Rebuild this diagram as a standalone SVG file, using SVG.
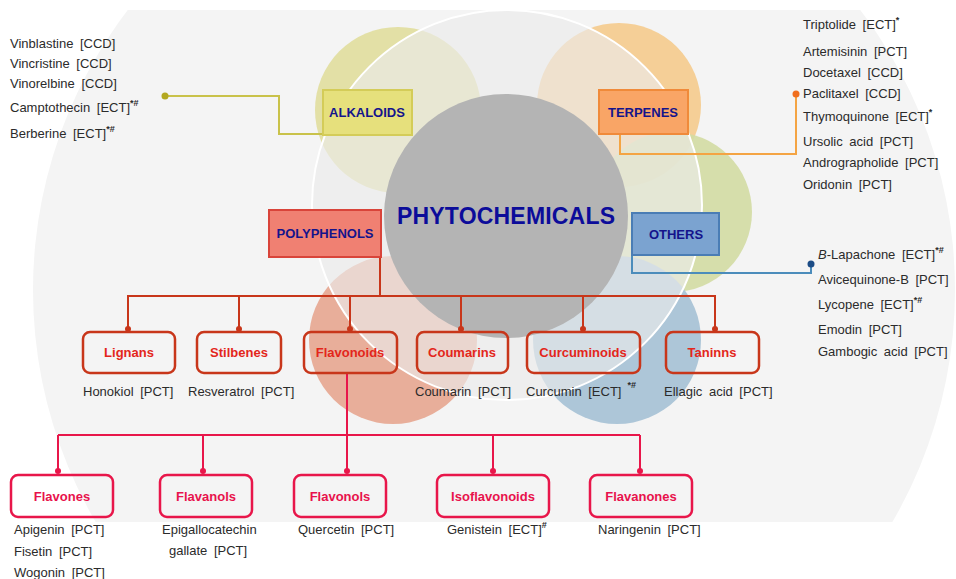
<svg xmlns="http://www.w3.org/2000/svg" width="956" height="579" viewBox="0 0 956 579">
<style>
text{font-family:"Liberation Sans",Arial,sans-serif}
.lbl{font-size:13px;fill:#2b2b2b;word-spacing:3px}
.sup{font-size:9px;font-weight:bold}
.cat{font-size:13px;font-weight:bold;fill:#14148c;text-anchor:middle}
.rtx{font-size:13px;font-weight:bold;fill:#e3261b;text-anchor:middle}
.ptx{font-size:13px;font-weight:bold;fill:#e8124c;text-anchor:middle}
.rbox{fill:none;stroke:#c8361a;stroke-width:2.5}
.pbox{fill:none;stroke:#e8164a;stroke-width:2.5}
.rl{fill:none;stroke:#c8361a;stroke-width:2}
.pl{fill:none;stroke:#e8164a;stroke-width:2}
</style>
<defs>
<clipPath id="bgclip"><rect x="0" y="10" width="956" height="512"/></clipPath>
</defs>
<rect width="956" height="579" fill="#ffffff"/>
<g id="background">
<circle cx="494" cy="290" r="461" fill="#f4f4f4" clip-path="url(#bgclip)"/>
<circle cx="398" cy="110" r="83" fill="#e3e0a6"/>
<circle cx="619" cy="105" r="82" fill="#f5cf97"/>
<circle cx="672" cy="212" r="80" fill="#d3dba3" opacity="0.9"/>
<circle cx="393" cy="340" r="84" fill="#e8ae9a"/>
<circle cx="617" cy="340" r="84" fill="#adc6d8"/>
<circle cx="507" cy="205" r="195" fill="#ebebeb" fill-opacity="0.65" stroke="#ffffff" stroke-width="2"/>
</g>
<g id="phytochemicals">
<circle cx="506" cy="216" r="122" fill="#b4b4b4"/>
<text x="506" y="224" font-size="23" font-weight="bold" fill="#0c0c9a" text-anchor="middle" textLength="218">PHYTOCHEMICALS</text>
</g>
<g id="connectors">
<polyline points="165,96 279,96 279,134 393,134" fill="none" stroke="#c9c24a" stroke-width="2"/>
<circle cx="165" cy="96" r="3.5" fill="#b3a820"/>
<polyline points="620,134 620,154 796,154 796,94" fill="none" stroke="#f4a443" stroke-width="2"/>
<circle cx="796" cy="94" r="3.5" fill="#f06e1e"/>
<polyline points="632,255 632,273 811,273 811,264" fill="none" stroke="#4b8cbb" stroke-width="2"/>
<circle cx="811" cy="264" r="3.5" fill="#1c4c86"/>
<polyline class="rl" points="380,257 380,296"/>
<line class="rl" x1="127" y1="296" x2="716" y2="296"/>
<line class="rl" x1="128" y1="296" x2="128" y2="329"/>
<line class="rl" x1="239" y1="296" x2="239" y2="329"/>
<line class="rl" x1="350" y1="296" x2="350" y2="329"/>
<line class="rl" x1="461" y1="296" x2="461" y2="329"/>
<line class="rl" x1="583" y1="296" x2="583" y2="329"/>
<line class="rl" x1="715" y1="296" x2="715" y2="329"/>
<g fill="#c8361a">
<circle cx="128" cy="329" r="3"/><circle cx="239" cy="329" r="3"/><circle cx="350" cy="329" r="3"/>
<circle cx="461" cy="329" r="3"/><circle cx="583" cy="329" r="3"/><circle cx="715" cy="329" r="3"/>
</g>
<line class="pl" x1="347" y1="373" x2="347" y2="471"/>
<line class="pl" x1="58" y1="435" x2="640" y2="435"/>
<line class="pl" x1="58" y1="435" x2="58" y2="471"/>
<line class="pl" x1="203" y1="435" x2="203" y2="471"/>
<line class="pl" x1="493" y1="435" x2="493" y2="471"/>
<line class="pl" x1="640" y1="435" x2="640" y2="471"/>
<g fill="#e8164a">
<circle cx="58" cy="471" r="3"/><circle cx="203" cy="471" r="3"/><circle cx="347" cy="471" r="3"/>
<circle cx="493" cy="471" r="3"/><circle cx="640" cy="471" r="3"/>
</g>
</g>
<g id="alkaloids">
<rect x="323" y="90" width="89" height="45" fill="#e6e07c" stroke="#d4cc58" stroke-width="2"/>
<text class="cat" x="367" y="117">ALKALOIDS</text>
</g>
<g id="terpenes">
<rect x="599" y="90" width="89" height="44" fill="#f9a566" stroke="#f08a3a" stroke-width="2"/>
<text class="cat" x="643" y="117">TERPENES</text>
</g>
<g id="polyphenols">
<rect x="269" y="210" width="112" height="47" fill="#f08072" stroke="#d9443a" stroke-width="2"/>
<text class="cat" x="325" y="238">POLYPHENOLS</text>
</g>
<g id="others">
<rect x="632" y="213" width="87" height="42" fill="#7ba3d0" stroke="#4a7db5" stroke-width="2"/>
<text class="cat" x="676" y="239">OTHERS</text>
</g>
<g id="alkaloids-list">
<text class="lbl" x="10" y="48">Vinblastine [CCD]</text>
<text class="lbl" x="10" y="68">Vincristine [CCD]</text>
<text class="lbl" x="10" y="88">Vinorelbine [CCD]</text>
<text class="lbl" x="10" y="112">Camptothecin [ECT]<tspan class="sup" dy="-6">*#</tspan></text>
<text class="lbl" x="10" y="138">Berberine [ECT]<tspan class="sup" dy="-6">*#</tspan></text>
</g>
<g id="terpenes-list">
<text class="lbl" x="803" y="29">Triptolide [ECT]<tspan class="sup" dy="-6">*</tspan></text>
<text class="lbl" x="803" y="56">Artemisinin [PCT]</text>
<text class="lbl" x="803" y="77">Docetaxel [CCD]</text>
<text class="lbl" x="803" y="98">Paclitaxel [CCD]</text>
<text class="lbl" x="803" y="121">Thymoquinone [ECT]<tspan class="sup" dy="-6">*</tspan></text>
<text class="lbl" x="803" y="146">Ursolic acid [PCT]</text>
<text class="lbl" x="803" y="167">Andrographolide [PCT]</text>
<text class="lbl" x="803" y="189">Oridonin [PCT]</text>
</g>
<g id="others-list">
<text class="lbl" x="818" y="259"><tspan font-style="italic">B</tspan>-Lapachone [ECT]<tspan class="sup" dy="-6">*#</tspan></text>
<text class="lbl" x="818" y="284">Avicequinone-B [PCT]</text>
<text class="lbl" x="818" y="309">Lycopene [ECT]<tspan class="sup" dy="-6">*#</tspan></text>
<text class="lbl" x="818" y="334">Emodin [PCT]</text>
<text class="lbl" x="818" y="356">Gambogic acid [PCT]</text>
</g>
<g id="lignans">
<rect class="rbox" x="83" y="332" width="92" height="41" rx="7"/>
<text class="rtx" x="129" y="357">Lignans</text>
<text class="lbl" x="83" y="396">Honokiol [PCT]</text>
</g>
<g id="stilbenes">
<rect class="rbox" x="197" y="332" width="84" height="41" rx="7"/>
<text class="rtx" x="239" y="357">Stilbenes</text>
<text class="lbl" x="188" y="396">Resveratrol [PCT]</text>
</g>
<g id="flavonoids">
<rect class="rbox" x="304" y="332" width="93" height="41" rx="7"/>
<text class="rtx" x="350" y="357">Flavonoids</text>
</g>
<g id="coumarins">
<rect class="rbox" x="417" y="332" width="91" height="41" rx="7"/>
<text class="rtx" x="462" y="357">Coumarins</text>
<text class="lbl" x="415" y="396">Coumarin [PCT]</text>
</g>
<g id="curcuminoids">
<rect class="rbox" x="527" y="332" width="113" height="41" rx="7"/>
<text class="rtx" x="583" y="357">Curcuminoids</text>
<text class="lbl" x="526" y="396">Curcumin [ECT]<tspan class="sup" dx="6" dy="-8">*#</tspan></text>
</g>
<g id="taninns">
<rect class="rbox" x="666" y="332" width="93" height="41" rx="7"/>
<text class="rtx" x="712" y="357">Taninns</text>
<text class="lbl" x="664" y="396">Ellagic acid [PCT]</text>
</g>
<g id="flavones">
<rect class="pbox" x="11" y="475" width="102" height="42" rx="7"/>
<text class="ptx" x="62" y="501">Flavones</text>
<text class="lbl" x="14" y="534">Apigenin [PCT]</text>
<text class="lbl" x="14" y="556">Fisetin [PCT]</text>
<text class="lbl" x="14" y="577">Wogonin [PCT]</text>
</g>
<g id="flavanols">
<rect class="pbox" x="160" y="475" width="92" height="42" rx="7"/>
<text class="ptx" x="206" y="501">Flavanols</text>
<text class="lbl" x="162" y="534">Epigallocatechin</text>
<text class="lbl" x="169" y="555" word-spacing="10">gallate [PCT]</text>
</g>
<g id="flavonols">
<rect class="pbox" x="294" y="475" width="92" height="42" rx="7"/>
<text class="ptx" x="340" y="501">Flavonols</text>
<text class="lbl" x="298" y="534">Quercetin [PCT]</text>
</g>
<g id="isoflavonoids">
<rect class="pbox" x="437" y="475" width="112" height="42" rx="7"/>
<text class="ptx" x="493" y="501">Isoflavonoids</text>
<text class="lbl" x="447" y="534">Genistein [ECT]<tspan class="sup" dy="-6">#</tspan></text>
</g>
<g id="flavanones">
<rect class="pbox" x="590" y="475" width="102" height="42" rx="7"/>
<text class="ptx" x="641" y="501">Flavanones</text>
<text class="lbl" x="598" y="534">Naringenin [PCT]</text>
</g>
</svg>
